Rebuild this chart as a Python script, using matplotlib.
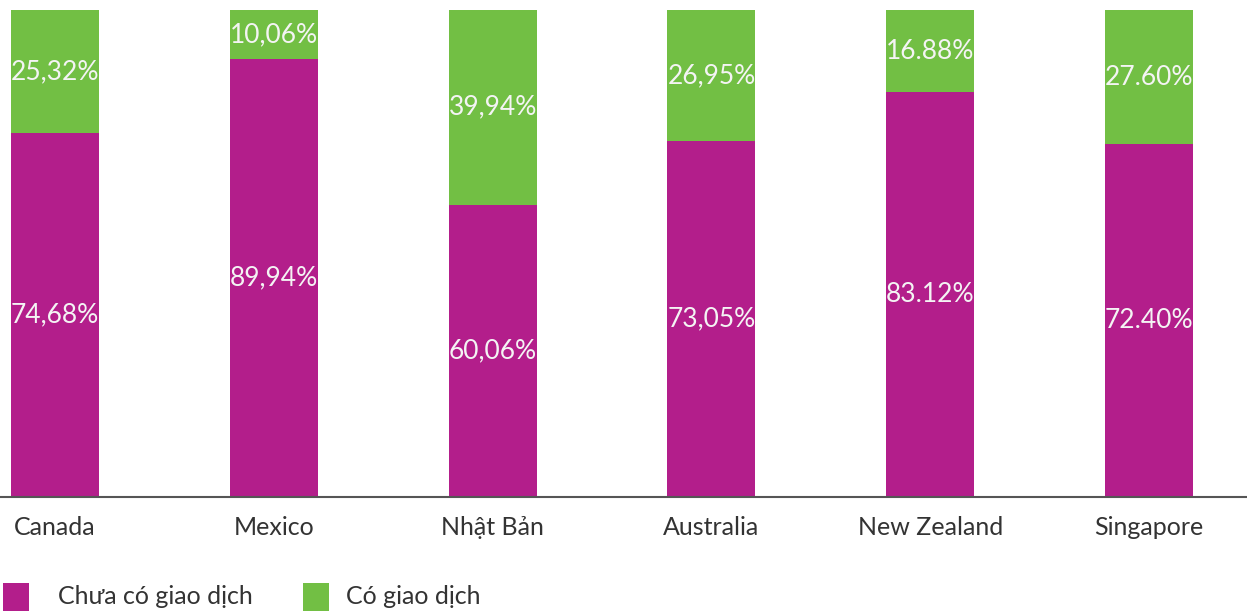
import matplotlib
matplotlib.use('Agg')
import matplotlib.pyplot as plt
from matplotlib.patches import Rectangle

# Data
countries = ['Canada', 'Mexico', 'Nhật Bản', 'Australia', 'New Zealand', 'Singapore']
chua_co = [74.68, 89.94, 60.06, 73.05, 83.12, 72.40]
co = [25.32, 10.06, 39.94, 26.95, 16.88, 27.60]
chua_co_labels = ['74,68%', '89,94%', '60,06%', '73,05%', '83.12%', '72.40%']
co_labels = ['25,32%', '10,06%', '39,94%', '26,95%', '16.88%', '27.60%']
legend_labels = ['Chưa có giao dịch', 'Có giao dịch']

MAGENTA = '#B31E8B'
GREEN = '#72BF44'
TEXT = '#333333'
LABEL = '#F4F4F4'

plt.rcParams['font.family'] = ['Lato', 'DejaVu Sans']

W, H = 1247, 611
fig = plt.figure(figsize=(W / 100, H / 100), dpi=100)
ax = fig.add_axes([0, (H - 497) / H, 1, 487 / H])

x = list(range(len(countries)))
width = 0.402
ax.bar(x, chua_co, width=width, color=MAGENTA)
ax.bar(x, co, width=width, bottom=chua_co, color=GREEN)

for i in x:
    ax.text(i, chua_co[i] / 2, chua_co_labels[i], ha='center', va='center',
            color=LABEL, fontsize=19)
    ax.text(i, chua_co[i] + co[i] / 2, co_labels[i], ha='center', va='center',
            color=LABEL, fontsize=19)

ax.set_xlim(-0.2514, 5.448)
ax.set_ylim(0, 100)
ax.set_yticks([])
ax.set_xticks(x)
ax.set_xticklabels(countries, fontsize=18, color=TEXT)
ax.tick_params(axis='x', length=0, pad=14)
for side in ['top', 'right', 'left']:
    ax.spines[side].set_visible(False)
ax.spines['bottom'].set_color('#555555')
ax.spines['bottom'].set_linewidth(1.5)

# Legend
for px, col, lbl, tx in [(3, MAGENTA, legend_labels[0], 58), (303, GREEN, legend_labels[1], 346)]:
    fig.add_artist(Rectangle((px / W, 0), 26 / W, 28 / H, transform=fig.transFigure,
                             facecolor=col, edgecolor='none'))
    fig.text(tx / W, (H - 597) / H, lbl, ha='left', va='center', fontsize=18, color=TEXT)

fig.savefig('out.png', dpi=100)
